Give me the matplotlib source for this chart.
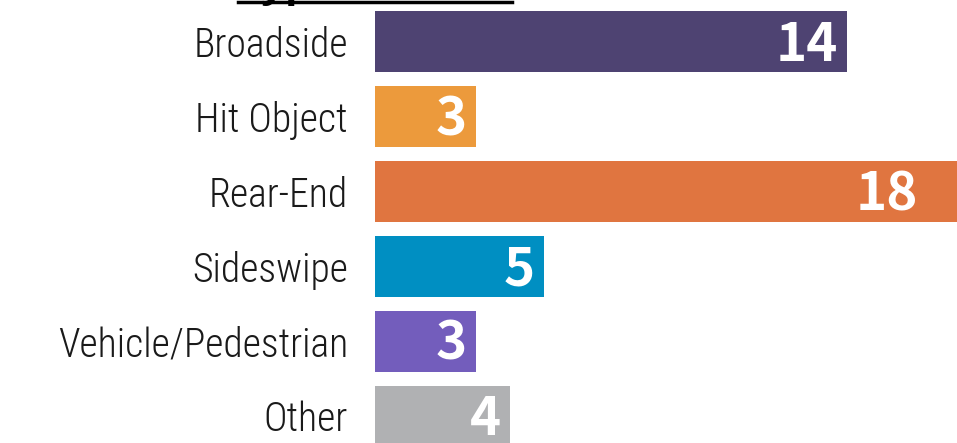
import matplotlib
matplotlib.use("Agg")
import matplotlib.pyplot as plt
from matplotlib.lines import Line2D
from matplotlib import font_manager as fm

# data
categories = ["Broadside", "Hit Object", "Rear-End", "Sideswipe", "Vehicle/Pedestrian", "Other"]
counts = [14, 3, 18, 5, 3, 4]
colors = ["#4e4372", "#ec9a3c", "#e07540", "#008fc2", "#735dbc", "#b0b1b3"]
title = "Type of Collision"

# pick the narrowest font we have for the category labels
installed = {f.name for f in fm.fontManager.ttflist}
label_font = "DejaVu Sans"
for name in ["Roboto Condensed", "DejaVu Sans Condensed", "Liberation Sans Narrow",
             "Noto Sans CJK JP", "Roboto"]:
    if name in installed:
        label_font = name
        break
num_font = "Noto Sans CJK JP" if "Noto Sans CJK JP" in installed else "Open Sans"

W, H = 957, 443
fig = plt.figure(figsize=(W / 100, H / 100), dpi=100)
ax = fig.add_axes([375 / W, 0, 1 - 375 / W, 1])

ypos = list(range(len(categories)))
ax.barh(ypos, counts, height=0.815, color=colors)

xmax = (W - 375) / 33.71
ax.set_xlim(0, xmax)
ax.set_ylim(5.36, -0.56)

# size labels so the longest one is about 290 px wide, like the original
renderer = fig.canvas.get_renderer()
probe = fig.text(0, 0, max(categories, key=len), family=[label_font, "DejaVu Sans"],
                 fontsize=30, fontweight="light")
w = probe.get_window_extent(renderer).width
probe.remove()
label_size = min(34, 30 * 290 / w)

ax.set_yticks(ypos)
ax.set_yticklabels(categories, family=[label_font, "DejaVu Sans"],
                   fontsize=label_size, fontweight="light", color="#1a1a1a")
ax.tick_params(axis="y", length=0, pad=19.5)
ax.set_xticks([])
for s in ax.spines.values():
    s.set_visible(False)

for y, v in zip(ypos, counts):
    x = min(v, xmax - 0.88) - 0.27
    ax.text(x, y + 0.25, str(v), ha="right", va="baseline", color="white",
            fontsize=38, fontweight="bold", family=[num_font, "DejaVu Sans"])

# title sits mostly above the visible area, only its underline shows
fig.text(238 / W, 1 + 4 / H, title, ha="left", va="baseline",
         fontsize=30, fontweight="bold", family=["Open Sans", "DejaVu Sans"], color="black")
fig.add_artist(Line2D([238 / W, 512 / W], [1 - 2 / H, 1 - 2 / H],
                      transform=fig.transFigure, color="black", linewidth=2.5))

fig.savefig("out.png", dpi=100)
